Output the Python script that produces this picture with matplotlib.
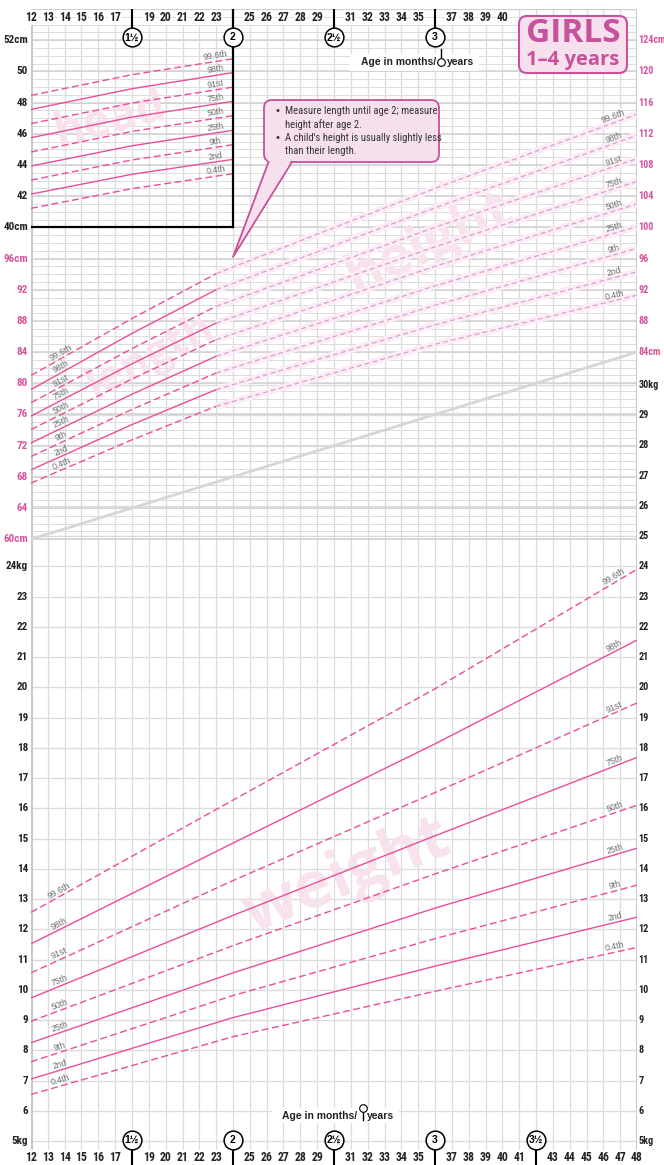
import os
import numpy as np
import matplotlib
matplotlib.use('Agg')
import matplotlib.pyplot as plt
import matplotlib.transforms as mtransforms
from matplotlib import font_manager as fm
from matplotlib.patches import FancyBboxPatch, Polygon, Rectangle

# centile order, top to bottom
CENTILES = ['99.6th', '98th', '91st', '75th', '50th', '25th', '9th', '2nd', '0.4th']
DASHED = [True, False, True, False, True, False, True, False, True]

head_months = [12, 18, 24]
head_cm = [
    [48.46, 49.79, 50.81],
    [47.56, 48.89, 49.92],
    [46.65, 47.97, 48.99],
    [45.75, 47.07, 48.08],
    [44.83, 46.15, 47.16],
    [43.93, 45.23, 46.22],
    [43.03, 44.32, 45.30],
    [42.13, 43.40, 44.36],
    [41.22, 42.48, 43.44],
]

length_months = [12, 18, 23]
length_cm = [
    [81.00, 88.30, 94.06],
    [79.20, 86.40, 92.00],
    [77.50, 84.45, 89.87],
    [75.80, 82.50, 87.73],
    [74.06, 80.55, 85.60],
    [72.35, 78.60, 83.46],
    [70.60, 76.65, 81.32],
    [68.90, 74.70, 79.19],
    [67.20, 72.75, 77.05],
]

height_months = [23, 36, 48]
height_cm = [
    [94.06, 105.0, 114.5],
    [92.00, 102.5, 111.8],
    [89.87, 100.0, 108.8],
    [87.73, 97.5, 105.9],
    [85.60, 95.0, 103.0],
    [83.46, 92.5, 100.1],
    [81.32, 90.0, 97.3],
    [79.19, 87.5, 94.3],
    [77.05, 85.0, 91.3],
]

weight_months = [12, 24, 36, 48]
weight_kg = [
    [12.56, 16.27, 19.95, 23.90],
    [11.52, 14.85, 18.13, 21.56],
    [10.56, 13.61, 16.52, 19.48],
    [9.73, 12.46, 15.09, 17.68],
    [8.96, 11.46, 13.83, 16.10],
    [8.25, 10.56, 12.70, 14.68],
    [7.62, 9.81, 11.69, 13.46],
    [7.05, 9.08, 10.78, 12.40],
    [6.54, 8.45, 9.95, 11.40],
]

top_month_labels = [m for m in range(12, 41) if m not in (18, 24, 30, 36)]
bottom_month_labels = [m for m in range(12, 49) if m not in (18, 24, 30, 36, 42)]
year_marks_top = [(18, '1½'), (24, '2'), (30, '2½'), (36, '3')]
year_marks_bottom = year_marks_top + [(42, '3½')]

head_ticks = [52, 50, 48, 46, 44, 42, 40]
length_ticks = [96, 92, 88, 84, 80, 76, 72, 68, 64, 60]
height_ticks = [124, 120, 116, 112, 108, 104, 100, 96, 92, 88, 84]
weight_ticks_left = list(range(24, 4, -1))
weight_ticks_right = list(range(30, 4, -1))

callout_lines = ['Measure length until age 2; measure', 'height after age 2.',
                 "A child's height is usually slightly less", 'than their length.']

PINK = '#ec4d9b'
PINK_TXT = '#d4569c'
GRID = '#dcdcdc'
WATER = '#f8e2ed'
BOX_FILL = '#f7e0ed'
BOX_EDGE = '#c9509a'
LABEL_GREY = '#6f6f6f'
SANS = ['Liberation Sans', 'DejaVu Sans']
BOLD = ['Open Sans', 'DejaVu Sans']

Y_BOTTOM, Y_TOP = -18.33, 128.0


def find_narrow(bold):
    # look for a condensed / narrow face on the system
    prefs = ['liberationsansnarrow', 'robotocondensed', 'dejavusanscondensed',
             'notosanscondensed', 'opensanscondensed', 'opensans_condensed']
    found = []
    for f in fm.fontManager.ttflist:
        fn = os.path.basename(f.fname).lower()
        if not ('narrow' in fn or 'condensed' in fn):
            continue
        if any(k in fn for k in ('italic', 'oblique', 'semi', 'extra', 'light', 'black', 'thin', 'medium')):
            continue
        if ('bold' in fn) != bold:
            continue
        key = fn.replace('-', '').replace(' ', '')
        rank = next((i for i, p in enumerate(prefs) if key.startswith(p)), len(prefs))
        found.append((rank, f.fname))
    if found:
        return fm.FontProperties(fname=sorted(found)[0][1]), 1.0
    return fm.FontProperties(family=['Roboto', 'DejaVu Sans'],
                             weight='bold' if bold else 'normal'), 0.86


NARROW_B, SCALE_B = find_narrow(True)
NARROW_R, SCALE_R = find_narrow(False)


def nf(size, bold=True):
    fp = (NARROW_B if bold else NARROW_R).copy()
    fp.set_size(size * (SCALE_B if bold else SCALE_R))
    return fp


# all scales share one y axis measured in length/height cm
def kg_y(kg):
    return -17.18 + 3.8795 * (np.asarray(kg, float) - 5)


def head_y(cm):
    return 100 + 2 * (np.asarray(cm, float) - 40)


def cm_y(cm):
    return np.asarray(cm, float)


def px_x(px):
    return 12 + (px - 31) / 16.833


def px_y(py):
    return 60 + (539 - py) / 7.8


fig = plt.figure(figsize=(6.64, 11.65), dpi=100)
ax = fig.add_axes([31 / 664, 15 / 1165, 606 / 664, 1141 / 1165])
ax.set_xlim(12, 48)
ax.set_ylim(Y_BOTTOM, Y_TOP)
ax.axis('off')

# grid
ax.vlines(range(13, 48), Y_BOTTOM, Y_TOP, color=GRID, lw=0.9, zorder=1)
ax.hlines(np.arange(60, 128), 12, 48, color=GRID, lw=0.7, zorder=1)
ax.hlines(np.arange(60, 128, 4), 12, 48, color='#d2d2d2', lw=1.1, zorder=1)
ax.hlines(kg_y(np.arange(5, 31)), 12, 48, color=GRID, lw=1.0, zorder=1)
ax.hlines(Y_TOP, 12, 48, color='#d0d0d0', lw=1.0, zorder=1)
ax.vlines([12, 48], Y_BOTTOM, Y_TOP, color='#c9c9c9', lw=2.2, zorder=1)
ax.plot([12, 48], [60, 84], color='#d6d6d6', lw=2, zorder=1.5)

# watermark words
wm = dict(color=WATER, fontweight='bold', family=BOLD, ha='center', va='center', zorder=2)
ax.text(px_x(110), px_y(120), 'head', fontsize=33, rotation=15, **wm)
ax.text(px_x(151), px_y(356), 'length', fontsize=31, rotation=28, **wm)
ax.text(px_x(430), px_y(243), 'height', fontsize=40, rotation=25, **wm)
ax.text(px_x(347), px_y(877), 'weight', fontsize=46, rotation=22, **wm)


def draw(months, values, conv, dashed):
    ls = (0, (5, 2.5)) if dashed else '-'
    ax.plot(months, conv(values), color=PINK, lw=1.0, ls=ls, zorder=3)


def label(months, values, conv, m, text, off=0.15):
    yy = conv(values)
    yv = np.interp(m, months, yy)
    p1 = ax.transData.transform((m - 0.5, np.interp(m - 0.5, months, yy)))
    p2 = ax.transData.transform((m + 0.5, np.interp(m + 0.5, months, yy)))
    ang = np.degrees(np.arctan2(p2[1] - p1[1], p2[0] - p1[0]))
    ax.text(m, yv + off, text, rotation=ang, rotation_mode='anchor', ha='center',
            va='bottom', fontsize=6.3, color=LABEL_GREY, family=SANS, zorder=4)


for name, dsh, hc, ln, ht, wt in zip(CENTILES, DASHED, head_cm, length_cm, height_cm, weight_kg):
    draw(head_months, hc, head_y, dsh)
    draw(length_months, ln, cm_y, dsh)
    ax.plot(height_months, ht, color='#fcecf6', lw=5, solid_capstyle='butt', zorder=2.5)
    ax.plot(height_months, ht, color='#d7a0cf', lw=0.9, ls=(0, (4, 2.5)), zorder=3)
    draw(weight_months, wt, kg_y, dsh)
    label(head_months, hc, head_y, 23.0, name)
    label(length_months, ln, cm_y, 13.9, name)
    label(height_months, ht, cm_y, 46.7, name)
    label(weight_months, wt, kg_y, 13.8, name)
    label(weight_months, wt, kg_y, 46.75, name)

# head box border
ax.plot([24, 24], [Y_TOP, 100], color='black', lw=1.6, zorder=5)
ax.plot([12, 24], [100, 100], color='black', lw=1.6, zorder=5)

# side scales
trans_l = mtransforms.blended_transform_factory(ax.transAxes, ax.transData)
tk = dict(transform=trans_l, fontproperties=nf(8.0), va='center')
tkr = dict(transform=trans_l, fontproperties=nf(7.3), va='center')
for v in head_ticks:
    s = f'{v}cm' if v in (52, 40) else str(v)
    ax.text(-0.005, head_y(v), s, ha='right', color='#222222', **tk)
for v in length_ticks:
    s = f'{v}cm' if v in (96, 60) else str(v)
    ax.text(-0.005, v, s, ha='right', color=PINK_TXT, **tk)
for v in weight_ticks_left:
    s = f'{v}kg' if v in (24, 5) else str(v)
    ax.text(-0.005, kg_y(v), s, ha='right', color='#222222', **tk)
for v in height_ticks:
    s = f'{v}cm' if v in (124, 84) else str(v)
    ax.text(1.002, v, s, ha='left', color=PINK_TXT, **tkr)
for v in weight_ticks_right:
    s = f'{v}kg' if v in (30, 5) else str(v)
    ax.text(1.002, kg_y(v), s, ha='left', color='#222222', **tkr)

# month labels
mt = dict(fontproperties=nf(8.5), ha='center', va='center', color='#222222', zorder=6)
for m in top_month_labels:
    ax.text(m, px_y(17), str(m), bbox=dict(fc='white', ec='none', pad=0.6), **mt)
for m in bottom_month_labels:
    ax.text(m, px_y(1157), str(m), **mt)

# year markers
for m, s in year_marks_top:
    if m != 24:
        ax.plot([m, m], [Y_TOP, px_y(30)], color='black', lw=1.5, zorder=5)
    ax.plot(m, px_y(37), 'o', ms=13.5, mfc='white', mec='black', mew=1.1, zorder=6)
    ax.text(m, px_y(37), s, fontsize=7.5, fontweight='bold', ha='center', va='center',
            family=SANS, zorder=7)
for m, s in year_marks_bottom:
    ax.plot([m, m], [px_y(1147), px_y(1165)], color='black', lw=1.5, zorder=5, clip_on=False)
    ax.plot(m, px_y(1140), 'o', ms=13.5, mfc='white', mec='black', mew=1.1, zorder=6, clip_on=False)
    ax.text(m, px_y(1140), s, fontsize=7.5, fontweight='bold', ha='center', va='center',
            family=SANS, zorder=7)

# "Age in months / years" captions
at = dict(fontsize=7.5, fontweight='bold', family=SANS, va='center', color='#222222', zorder=7)
ax.add_patch(Rectangle((px_x(350), px_y(71)), px_x(479) - px_x(350), px_y(54) - px_y(71),
                       fc='white', ec='none', zorder=6))
ax.text(px_x(436), px_y(62), 'Age in months/', ha='right', **at)
ax.text(px_x(447), px_y(62), 'years', ha='left', **at)
ax.plot([px_x(441)] * 2, [px_y(49), px_y(57)], color='black', lw=1.0, zorder=7)
ax.plot(px_x(441), px_y(62), 'o', ms=5.5, mfc='white', mec='black', mew=0.8, zorder=7)

ax.add_patch(Rectangle((px_x(272), px_y(1123)), px_x(399) - px_x(272), px_y(1108) - px_y(1123),
                       fc='white', ec='none', zorder=6))
ax.text(px_x(357), px_y(1116), 'Age in months/', ha='right', **at)
ax.text(px_x(367), px_y(1116), 'years', ha='left', **at)
ax.plot([px_x(362.5)] * 2, [px_y(1111), px_y(1120)], color='black', lw=1.0, zorder=7)
ax.plot(px_x(362.5), px_y(1107.5), 'o', ms=5.5, mfc='white', mec='black', mew=0.8, zorder=7)

# title box (figure inches)
inch = fig.dpi_scale_trans
fig.add_artist(FancyBboxPatch((5.19, (1165 - 73) / 100), 1.08, 0.57,
                              boxstyle='round,pad=0,rounding_size=0.08',
                              fc=BOX_FILL, ec=BOX_EDGE, lw=1.5, transform=inch))
fig.text(5.73, (1165 - 34) / 100, 'GIRLS', transform=inch, fontsize=24, fontweight='bold',
         family=BOLD, color=BOX_EDGE, ha='center', va='center')
fig.text(5.73, (1165 - 60) / 100, '1–4 years', transform=inch, fontsize=14.5, fontweight='bold',
         family=BOLD, color=BOX_EDGE, ha='center', va='center')

# callout
fig.add_artist(FancyBboxPatch((2.64, (1165 - 162) / 100), 1.75, 0.62,
                              boxstyle='round,pad=0,rounding_size=0.08',
                              fc=BOX_FILL, ec=BOX_EDGE, lw=1.3, transform=inch))
tip = (2.33, (1165 - 257) / 100)
fig.add_artist(Polygon([(2.685, (1165 - 159) / 100), (2.92, (1165 - 159) / 100), tip],
                       closed=True, fc=BOX_FILL, ec='none', transform=inch))
fig.add_artist(plt.Line2D([2.685, tip[0], 2.92], [(1165 - 162) / 100, tip[1], (1165 - 162) / 100],
                          color=BOX_EDGE, lw=1.3, transform=inch))
for i, (yy, s) in enumerate(zip([111.5, 124.5, 138, 151], callout_lines)):
    if i in (0, 2):
        fig.text(2.75, (1165 - yy) / 100, '•', transform=inch, fontsize=7.5, va='center',
                 color='#333333')
    fig.text(2.85, (1165 - yy) / 100, s, transform=inch, fontproperties=nf(7.7, bold=False),
             va='center', color='#333333')

fig.savefig('out.png', dpi=100)
